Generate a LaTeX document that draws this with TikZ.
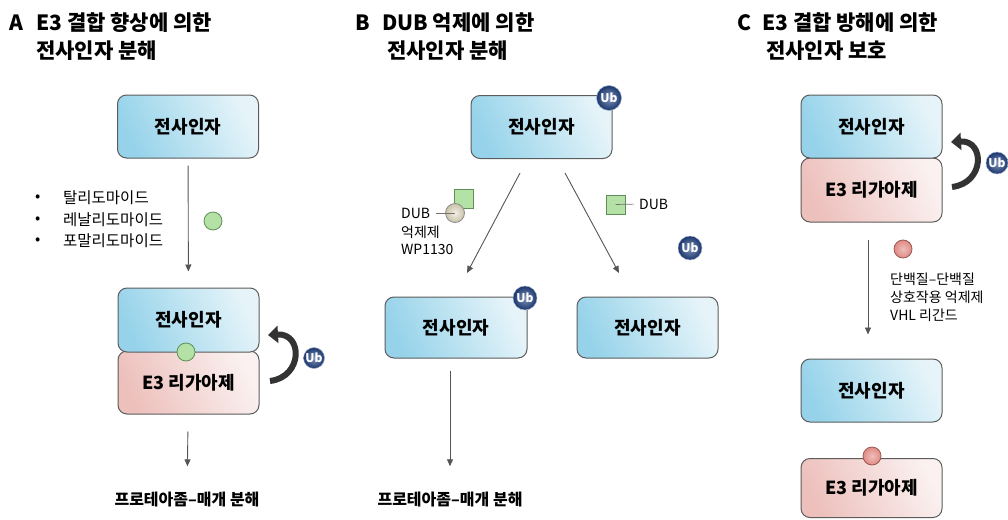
\documentclass[tikz,border=0pt]{standalone}
\usepackage{fontspec}
\setmainfont{Noto Sans CJK KR}
\usetikzlibrary{arrows.meta}
\definecolor{tfA}{HTML}{96D3EA}
\definecolor{tfB}{HTML}{E6F4F9}
\definecolor{e3A}{HTML}{EDC0BC}
\definecolor{e3B}{HTML}{FAF1F0}
\definecolor{edge}{HTML}{5C5C5C}
\definecolor{ubc}{HTML}{1E3F80}
\definecolor{grn}{HTML}{B4E2A6}
\definecolor{grnD}{HTML}{5E8F57}
\definecolor{redc}{HTML}{E08A84}
\definecolor{redD}{HTML}{9A5650}
\definecolor{arrc}{HTML}{555555}
\definecolor{inhc}{HTML}{C9C2A6}
\begin{document}
\begin{tikzpicture}[x=1pt,y=-1pt,
  box/.style={draw=edge, line width=1pt, rounded corners=9pt, minimum width=141pt,
    minimum height=63pt, inner sep=0pt, font=\fontsize{18}{21}\selectfont\bfseries},
  tf/.style={box, left color=tfA, right color=tfB, shading angle=115},
  e3/.style={box, left color=e3A, right color=e3B, shading angle=115},
  ub/.style={circle, inner color=ubc!55!white, outer color=ubc!85!black, draw=ubc!40!white, line width=0.5pt,
    minimum size=23pt, inner sep=0pt, text=white, font=\fontsize{12}{12}\selectfont\bfseries},
  gdot/.style={circle, fill=grn, draw=grnD, line width=0.8pt, minimum size=18pt, inner sep=0pt},
  rdot/.style={circle, inner color=redc!55!white, outer color=redc, draw=redD, line width=0.8pt, minimum size=18pt, inner sep=0pt},
  arr/.style={draw=arrc, line width=0.9pt, -{Triangle[length=7pt,width=6pt]}},
  curv/.style={draw=black!80, line width=6pt, -{Triangle[length=10pt,width=17pt]}},
  ttl/.style={inner sep=0pt, anchor=west, font=\fontsize{21}{24}\selectfont\bfseries},
  lbl/.style={inner sep=0pt, anchor=west, font=\fontsize{15.5}{18}\selectfont},
  sml/.style={inner sep=0pt, anchor=west, font=\fontsize{14}{16}\selectfont},
  proc/.style={inner sep=0pt, font=\fontsize{16}{19}\selectfont\bfseries},
]
\useasboundingbox (0,0) rectangle (1008,519);

% ---------------- Panel A ----------------
\node[ttl] (tAl) at (9,23) {A};
\node[ttl] (tA1) at (36,23) {E3 결합 향상에 의한};
\node[ttl] (tA2) at (36,51) {전사인자 분해};

\node[tf] (a1) at (188,126.5) {전사인자};
\node[lbl] (bu1) at (35,198) {•};
\node[lbl] (bu2) at (35,220) {•};
\node[lbl] (bu3) at (35,241) {•};
\node[lbl] (la1) at (63,198) {탈리도마이드};
\node[lbl] (la2) at (63,220) {레날리도마이드};
\node[lbl] (la3) at (63,241) {포말리도마이드};
\node[gdot] (g1) at (213,221) {};

\node[e3] (a3) at (188.5,382.5) {E3 리가아제};
\node[tf, minimum height=64pt] (a2) at (188.5,320) {전사인자};
\node[gdot] (g2) at (186,352) {};
\draw[arr, shorten <=7pt, shorten >=16pt] (a1) -- (a2);

\coordinate (caS) at (270,381);
\coordinate (caE) at (268,335);
\draw[curv] (caS) .. controls (303,377) and (303,333) .. (caE);
\node[ub, minimum size=21pt] (ubA) at (314,358) {Ub};

\node[proc] (pA) at (187,500) {프로테아좀–매개 분해};
\draw[arr, shorten <=17pt, shorten >=26pt] (a3) -- (pA);

% ---------------- Panel B ----------------
\node[ttl] (tBl) at (355,23) {B};
\node[ttl] (tB1) at (382,23) {DUB 억제에 의한};
\node[ttl] (tB2) at (387,51) {전사인자 분해};

\node[tf] (b1) at (541.5,127) {전사인자};
\node[ub, minimum size=25pt] (ubB1) at (609,98) {Ub};

\coordinate (bs1) at (520,173);
\coordinate (be1) at (467,273);
\coordinate (bs2) at (565,173);
\coordinate (be2) at (619,273);
\draw[arr] (bs1) -- (be1);
\draw[arr] (bs2) -- (be2);

\node[gdot, rectangle, minimum size=19pt, line width=0.8pt] (sq1) at (463.5,199) {};
\node[circle, inner color=inhc!25!white, outer color=inhc, draw=black!45, line width=0.8pt, minimum size=19pt, inner sep=0pt] (inh) at (455,213) {};
\node[sml] (dubL) at (401,213) {DUB};
\draw[black!55, line width=0.7pt, shorten <=6pt] (dubL.east) -- (inh.center);
\node[sml] (inh2) at (401,232) {억제제};
\node[sml] (inh3) at (401,249) {WP1130};

\node[gdot, rectangle, minimum size=19pt, line width=0.8pt] (sq2) at (615.5,204.5) {};
\node[sml] (dubR) at (639,204) {DUB};
\draw[black!55, line width=0.7pt, shorten >=5pt] (sq2.center) -- (dubR.west);
\node[ub, minimum size=24pt] (ubB3) at (690,248) {Ub};

\node[tf, minimum width=142pt, minimum height=61pt] (b2) at (456,327.5) {전사인자};
\node[ub, minimum size=24pt] (ubB2) at (525,298) {Ub};
\node[tf, minimum width=141pt, minimum height=61pt] (b3) at (647.5,327.5) {전사인자};

\node[proc] (pB) at (450,500) {프로테아좀–매개 분해};
\draw[arr, shorten <=12pt, shorten >=26pt] (b2.south -| pB) -- (pB);

% ---------------- Panel C ----------------
\node[ttl] (tCl) at (737,23) {C};
\node[ttl] (tC1) at (762,23) {E3 결합 방해에 의한};
\node[ttl] (tC2) at (766,51) {전사인자 보호};

\node[e3, minimum height=64pt] (c2) at (871.5,190) {E3 리가아제};
\node[tf] (c1) at (871.5,126.5) {전사인자};
\coordinate (ccS) at (952,187);
\coordinate (ccE) at (951,142);
\draw[curv] (ccS) .. controls (985,183) and (985,140) .. (ccE);
\node[ub, minimum size=22pt] (ubC) at (997,163) {Ub};

\node[rdot] (r1) at (903,249) {};
\node[sml] (lc1) at (890,279) {단백질–단백질};
\node[sml] (lc2) at (890,297) {상호작용 억제제};
\node[sml] (lc3) at (890,315) {VHL 리간드};

\node[tf] (c3) at (871.5,390.5) {전사인자};
\draw[arr, shorten <=17pt, shorten >=24pt] (c2.south -| 868,0) -- (c3.north -| 868,0);

\node[e3, minimum height=59pt] (c4) at (871.5,488) {E3 리가아제};
\node[rdot] (r2) at (872,456) {};
\end{tikzpicture}
\end{document}
